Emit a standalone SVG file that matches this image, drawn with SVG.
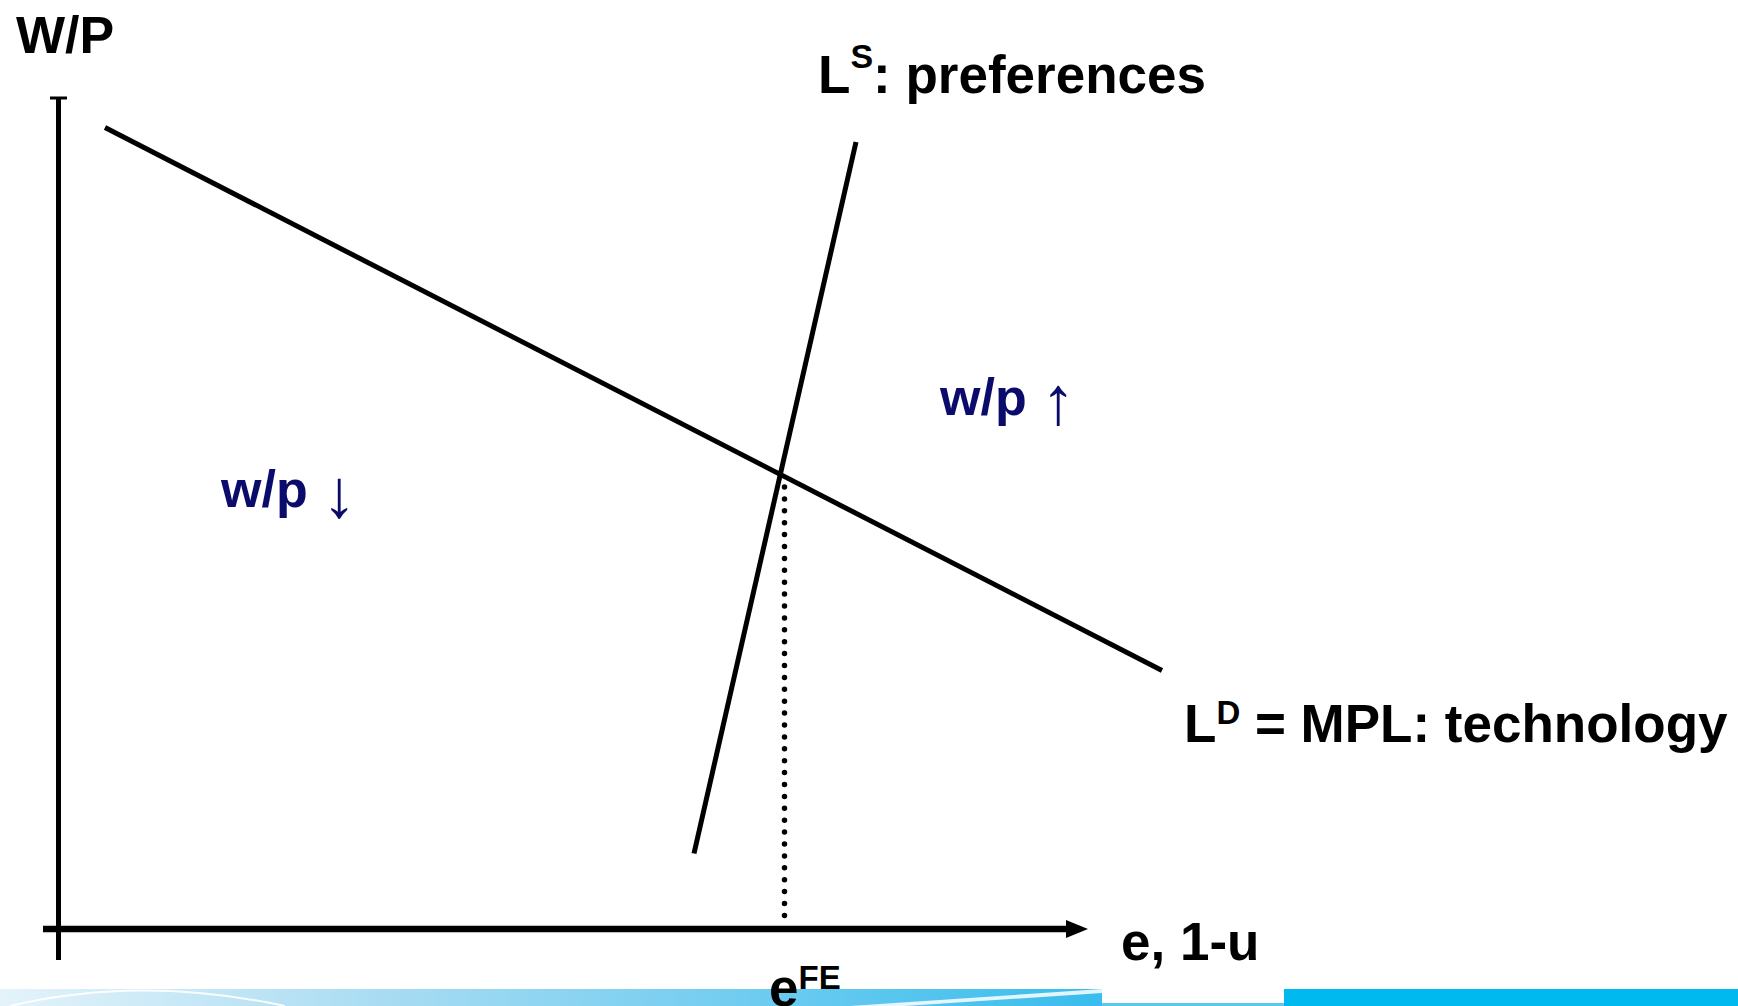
<svg xmlns="http://www.w3.org/2000/svg" width="1738" height="1006" viewBox="0 0 1738 1006">
<defs>
<style>
.lbl{font-family:"Liberation Sans",Arial,sans-serif;font-weight:bold;fill:#000}
.blue{font-family:"Liberation Sans",Arial,sans-serif;font-weight:bold;fill:#0b0b6b}
.arr{font-weight:normal;font-size:68px}
.ln{stroke:#000;stroke-width:5;fill:none}
</style>
<linearGradient id="band" x1="0" y1="0" x2="1" y2="0">
<stop offset="0" stop-color="#e4f3fa"/>
<stop offset="0.35" stop-color="#a8dcf2"/>
<stop offset="0.7" stop-color="#6ccbf0"/>
<stop offset="1" stop-color="#38bdec"/>
</linearGradient>
</defs>
<rect width="1738" height="1006" fill="#fff"/>
<g id="footer-band">
<rect x="0" y="989" width="1102" height="17" fill="url(#band)"/>
<path d="M850,1006 L1102,989 L1102,993 L905,1006 Z" fill="#fff" opacity="0.85"/>
<path d="M10,1006 Q140,975 285,1006" stroke="#fff" stroke-width="2" fill="none" opacity="0.9"/>
<rect x="1102" y="989" width="182" height="15" fill="#fff"/>
<rect x="1102" y="1003" width="182" height="3" fill="#5cc8ee"/>
<rect x="1284" y="989" width="454" height="17" fill="#00b9ee"/>
</g>
<g id="axes">
<line x1="58.5" y1="98" x2="58.5" y2="960" stroke="#000" stroke-width="5"/>
<line x1="50" y1="98" x2="67" y2="98" stroke="#000" stroke-width="3"/>
<line x1="43" y1="929" x2="1070" y2="929" stroke="#000" stroke-width="6.5"/>
<polygon points="1066,920 1088,929 1066,938" fill="#000"/>
</g>
<g id="connectors">
<line id="labor-demand" class="ln" x1="105" y1="127.5" x2="1162" y2="670.5"/>
<line id="labor-supply" class="ln" x1="856" y1="142" x2="694" y2="853.5"/>
<line id="fe-dotted" x1="784.5" y1="487" x2="784.5" y2="920" stroke="#000" stroke-width="5.5" stroke-linecap="round" stroke-dasharray="0 11.9"/>
</g>
<g id="labels">
<text id="y-label" class="lbl" x="16" y="53" font-size="52">W/P</text>
<text id="ls-label" class="lbl" x="818" y="92.5" font-size="53">L<tspan font-size="34" dy="-25">S</tspan><tspan dy="25">: preferences</tspan></text>
<text id="ld-label" class="lbl" x="1184" y="742" font-size="53">L<tspan font-size="33" dy="-18">D</tspan><tspan dy="18"> = MPL: technology</tspan></text>
<text id="x-label" class="lbl" x="1121" y="960" font-size="53">e, 1-u</text>
<text id="efe-label" class="lbl" x="769" y="1006" font-size="53">e<tspan font-size="33" dy="-17">FE</tspan></text>
<text id="wp-up" class="blue" x="940" y="415" font-size="52">w/p <tspan class="arr" dy="9">↑</tspan></text>
<text id="wp-down" class="blue" x="221" y="507" font-size="52">w/p <tspan class="arr" dy="10">↓</tspan></text>
</g>
</svg>
